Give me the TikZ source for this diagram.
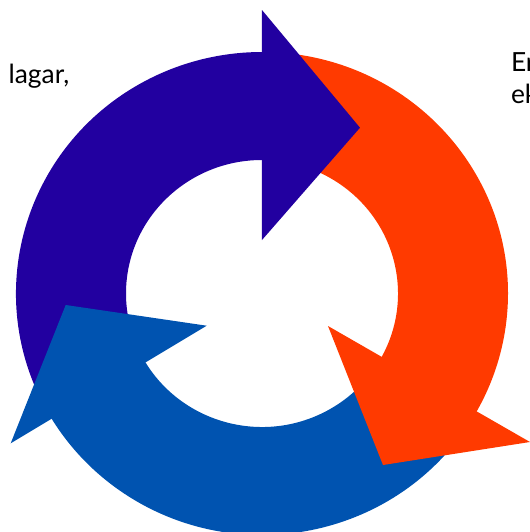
\documentclass[tikz,border=0pt]{standalone}
\usepackage{fontspec}
\setmainfont{Lato}
\definecolor{cycpurple}{RGB}{34,0,160}
\definecolor{cycorange}{RGB}{255,58,0}
\definecolor{cycblue}{RGB}{0,83,176}

\begin{document}
\begin{tikzpicture}[x=0.02cm,y=0.02cm]
\tikzstyle{lbl}=[font=\fontsize{15}{18}\selectfont,inner sep=0pt,anchor=base west]
\useasboundingbox (-262,-238.5) rectangle (268,293.5);
\clip (-262,-238.5) rectangle (268,293.5);
%%%%%%%%%%%%%%%%%%%%%%%%%%%%%%%%%%%%%%%%%%%%%%%%%%%%%%%%%%%%%%%%%%%%%%%%
%ring pieces (outer 246 x 241.5, inner 136 x 133.5)
%1
\fill[cycpurple] (208:246 and 241.5) arc[start angle=208,end angle=88,x radius=246,y radius=241.5]
 -- (88:136 and 133.5) arc[start angle=88,end angle=208,x radius=136,y radius=133.5] -- cycle;
%2
\fill[cycorange] (85:246 and 241.5) arc[start angle=85,end angle=-32,x radius=246,y radius=241.5]
 -- (-32:136 and 133.5) arc[start angle=-32,end angle=85,x radius=136,y radius=133.5] -- cycle;
%3
\fill[cycblue] (-35:246 and 241.5) arc[start angle=-35,end angle=-153,x radius=246,y radius=241.5]
 -- (-153:136 and 133.5) arc[start angle=-153,end angle=-35,x radius=136,y radius=133.5] -- cycle;

%heads
\fill[cycpurple] (0,283.5) -- (98,165.8) -- (0,53.5) -- cycle;
\fill[cycorange] (66,-32.5) -- (268,-148.5) -- (121,-171.5) -- cycle;
\fill[cycblue] (-251.3,-149.8) -- (-196.3,-11.5) -- (-55.3,-32.2) -- cycle;

%labels
\node[lbl] (lagar) at (-253.7,210.2) {lagar,};
\node[lbl] (er) at (248.7,221.8) {Er};
\node[lbl] (ek) at (248.7,190.5) {ek};
\end{tikzpicture}
\end{document}
